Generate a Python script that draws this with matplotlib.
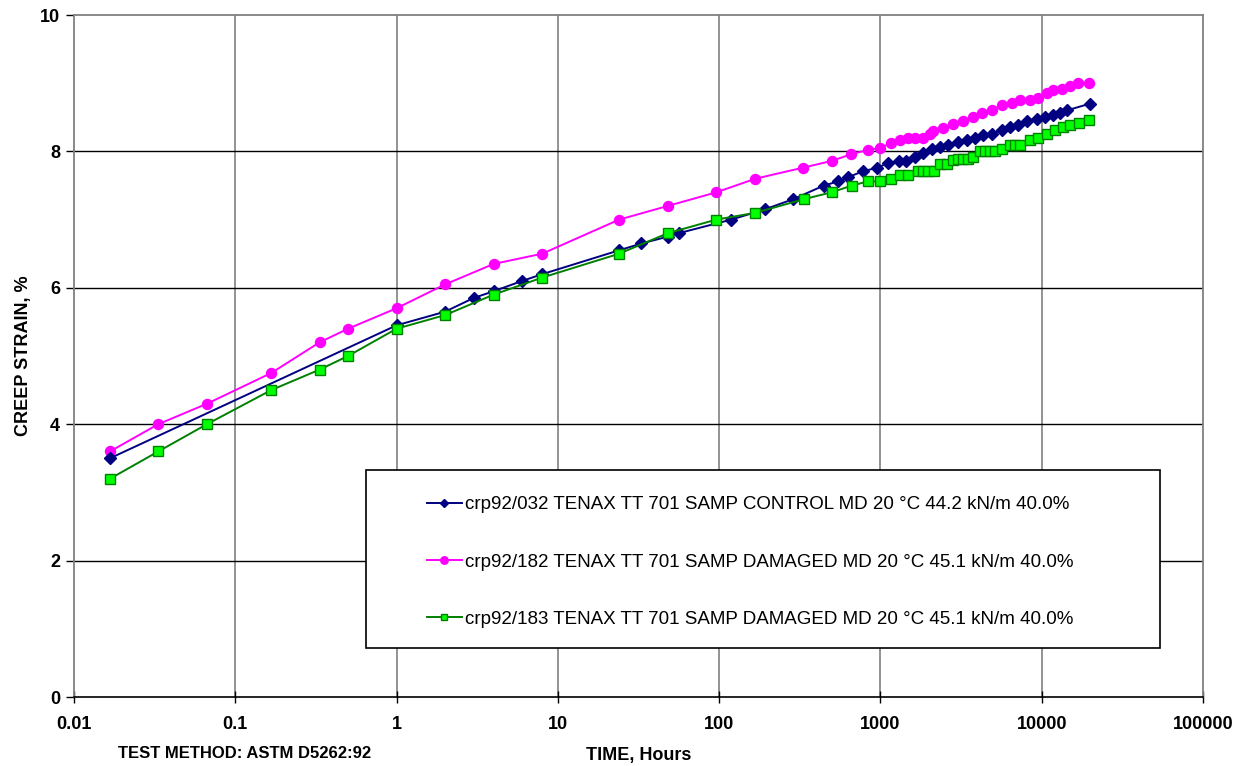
import matplotlib
matplotlib.use("Agg")
import matplotlib.pyplot as plt
from matplotlib.patches import Rectangle
from matplotlib.ticker import FixedLocator, FixedFormatter, NullLocator

plt.rcParams['font.family'] = ['Liberation Sans', 'DejaVu Sans']

# ---- data ----
t_control = [0.0167, 1, 2, 3, 4, 6, 8, 24, 33, 48, 56, 119, 192, 288, 447, 548, 627, 782, 955, 1120,
             1303, 1447, 1636, 1843, 2076, 2337, 2632, 3035, 3421, 3852, 4338, 4887, 5635, 6350, 7150,
             8050, 9290, 10470, 11790, 12970, 14270, 19900]
s_control = [3.5, 5.45, 5.65, 5.85, 5.95, 6.1, 6.2, 6.55, 6.65, 6.75, 6.8, 7.0, 7.15, 7.3, 7.5, 7.56,
             7.62, 7.71, 7.76, 7.83, 7.86, 7.86, 7.92, 7.98, 8.03, 8.06, 8.09, 8.14, 8.17, 8.2, 8.24,
             8.26, 8.31, 8.36, 8.39, 8.44, 8.47, 8.51, 8.53, 8.57, 8.6, 8.7]

t_dam182 = [0.0167, 0.0333, 0.0667, 0.167, 0.333, 0.5, 1, 2, 4, 8, 24, 48, 96, 168, 329, 498, 661, 832,
            993, 1161, 1320, 1486, 1636, 1824, 2027, 2125, 2450, 2827, 3260, 3760, 4238, 4887, 5635,
            6500, 7325, 8450, 9510, 10720, 11790, 13290, 14970, 16840, 19720]
s_dam182 = [3.6, 4.0, 4.3, 4.75, 5.2, 5.4, 5.7, 6.05, 6.35, 6.5, 7.0, 7.2, 7.4, 7.6, 7.76, 7.86, 7.96,
            8.02, 8.05, 8.12, 8.16, 8.2, 8.2, 8.2, 8.26, 8.3, 8.34, 8.4, 8.44, 8.5, 8.56, 8.6, 8.68,
            8.71, 8.75, 8.76, 8.79, 8.85, 8.9, 8.92, 8.96, 9.0, 9.0]

t_dam183 = [0.0167, 0.0333, 0.0667, 0.167, 0.333, 0.5, 1, 2, 4, 8, 24, 48, 96, 168, 336, 498, 667, 837,
            1000, 1161, 1320, 1480, 1714, 1843, 1982, 2148, 2337, 2570, 2800, 3035, 3260, 3500, 3760,
            4140, 4450, 4780, 5140, 5635, 6350, 6820, 7325, 8450, 9510, 10720, 12080, 13600, 14970,
            17100, 19720]
s_dam183 = [3.2, 3.6, 4.0, 4.5, 4.8, 5.0, 5.4, 5.6, 5.9, 6.15, 6.5, 6.8, 7.0, 7.1, 7.3, 7.4, 7.5, 7.56,
            7.56, 7.6, 7.65, 7.65, 7.71, 7.71, 7.71, 7.71, 7.81, 7.81, 7.87, 7.89, 7.89, 7.89, 7.92,
            8.0, 8.0, 8.0, 8.0, 8.04, 8.09, 8.09, 8.09, 8.17, 8.2, 8.25, 8.31, 8.36, 8.38, 8.41, 8.46]

labels = [
    "crp92/032 TENAX TT 701 SAMP CONTROL MD 20 \u00b0C 44.2 kN/m 40.0%",
    "crp92/182 TENAX TT 701 SAMP DAMAGED MD 20 \u00b0C 45.1 kN/m 40.0%",
    "crp92/183 TENAX TT 701 SAMP DAMAGED MD 20 \u00b0C 45.1 kN/m 40.0%",
]
x_ticks = [0.01, 0.1, 1, 10, 100, 1000, 10000, 100000]
x_ticklabels = ["0.01", "0.1", "1", "10", "100", "1000", "10000", "100000"]
y_ticks = [0, 2, 4, 6, 8, 10]

# ---- figure ----
W, H = 1243, 766
fig = plt.figure(figsize=(W / 100, H / 100), dpi=100)
L, R, T, B = 74, 1203, 15, 697
ax = fig.add_axes([L / W, 1 - B / H, (R - L) / W, (B - T) / H])

ax.set_xscale('log')
ax.set_xlim(0.01, 100000)
ax.set_ylim(0, 10)

l1, = ax.plot(t_control, s_control, color='#000080', lw=1.4, marker='D', ms=6,
              mfc='#000080', mec='#000080', label=labels[0], zorder=5)
l2, = ax.plot(t_dam182, s_dam182, color='#FF00FF', lw=1.4, marker='o', ms=7.2,
              mfc='#FF00FF', mec='#FF00FF', label=labels[1], zorder=4)
l3, = ax.plot(t_dam183, s_dam183, color='#008000', lw=1.4, marker='s', ms=6.5,
              mfc='#00FF00', mec='#008000', mew=1.0, label=labels[2], zorder=6)

ax.xaxis.set_major_locator(FixedLocator(x_ticks))
ax.xaxis.set_major_formatter(FixedFormatter(x_ticklabels))
ax.xaxis.set_minor_locator(NullLocator())
ax.set_yticks(y_ticks)
ax.set_yticklabels([str(v) for v in y_ticks])

for lab in ax.get_xticklabels() + ax.get_yticklabels():
    lab.set_fontweight('bold')
    lab.set_fontsize(13)
ax.tick_params(axis='x', direction='inout', length=8, width=1, pad=10, color='#000000')
ax.tick_params(axis='y', direction='out', length=6, width=1, pad=4, color='#000000')

ax.grid(False)
for x in x_ticks[1:-1]:
    ax.axvline(x, color='#808080', lw=1.2, zorder=1)
for y in y_ticks[1:-1]:
    ax.axhline(y, color='#000000', lw=1.0, zorder=1)

for s in ['left', 'top', 'right']:
    ax.spines[s].set_color('#808080')
    ax.spines[s].set_linewidth(1.3)
ax.spines['bottom'].set_color('#000000')
ax.spines['bottom'].set_linewidth(1.2)

ax.set_xlabel("TIME, Hours", fontsize=13, fontweight='bold', labelpad=10)
ax.set_ylabel("CREEP STRAIN, %", fontsize=13, fontweight='bold', labelpad=6)
fig.text(245 / W, 1 - 753 / H, "TEST METHOD: ASTM D5262:92", fontsize=12, fontweight='bold',
         ha='center', va='center')

# legend frame
lx0, ly0, lx1, ly1 = 366, 470, 1160, 648
ax.add_patch(Rectangle(((lx0 - L) / (R - L), (B - ly1) / (B - T)), (lx1 - lx0) / (R - L),
                       (ly1 - ly0) / (B - T), transform=ax.transAxes, facecolor='white',
                       edgecolor='black', lw=1.2, zorder=7))
leg = ax.legend(handles=[l1, l2, l3], loc='upper left',
                bbox_to_anchor=((427 - L) / (R - L), (B - 496) / (B - T)),
                frameon=False, fontsize=13.5, labelspacing=2.15, handlelength=1.85,
                handletextpad=0.2, borderpad=0, borderaxespad=0, markerscale=0.75)
leg.set_zorder(8)

fig.savefig("out.png", dpi=100)
